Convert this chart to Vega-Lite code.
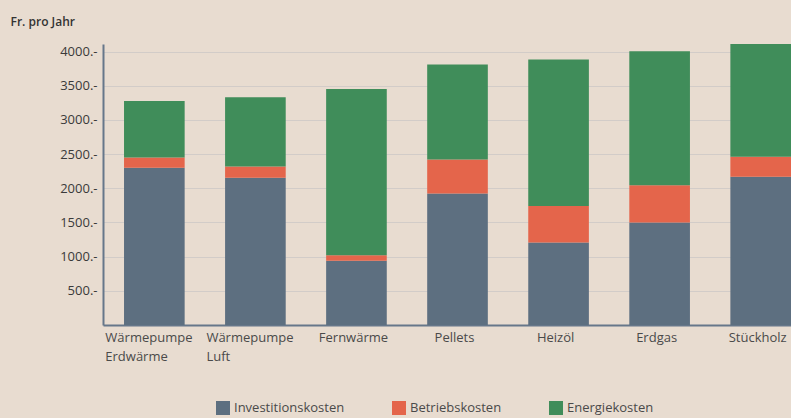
{
  "$schema": "https://vega.github.io/schema/vega-lite/v6.json",
  "width": 688,
  "height": 281,
  "autosize": {"type": "none"},
  "padding": {"left": 103, "top": 44, "right": 0, "bottom": 93},
  "background": "#e8dcd0",
  "config": {
    "view": {"stroke": null},
    "font": "Open Sans",
    "axis": {"labelFont": "Open Sans", "titleFont": "Open Sans"},
    "legend": {"labelFont": "Open Sans"}
  },
  "data": {
    "values": [
      {"typ": "Wärmepumpe Erdwärme", "kosten": "Investitionskosten", "k": 1, "wert": 2300},
      {"typ": "Wärmepumpe Erdwärme", "kosten": "Betriebskosten", "k": 2, "wert": 150},
      {"typ": "Wärmepumpe Erdwärme", "kosten": "Energiekosten", "k": 3, "wert": 825},
      {"typ": "Wärmepumpe Luft", "kosten": "Investitionskosten", "k": 1, "wert": 2155},
      {"typ": "Wärmepumpe Luft", "kosten": "Betriebskosten", "k": 2, "wert": 165},
      {"typ": "Wärmepumpe Luft", "kosten": "Energiekosten", "k": 3, "wert": 1010},
      {"typ": "Fernwärme", "kosten": "Investitionskosten", "k": 1, "wert": 940},
      {"typ": "Fernwärme", "kosten": "Betriebskosten", "k": 2, "wert": 80},
      {"typ": "Fernwärme", "kosten": "Energiekosten", "k": 3, "wert": 2430},
      {"typ": "Pellets", "kosten": "Investitionskosten", "k": 1, "wert": 1925},
      {"typ": "Pellets", "kosten": "Betriebskosten", "k": 2, "wert": 495},
      {"typ": "Pellets", "kosten": "Energiekosten", "k": 3, "wert": 1390},
      {"typ": "Heizöl", "kosten": "Investitionskosten", "k": 1, "wert": 1205},
      {"typ": "Heizöl", "kosten": "Betriebskosten", "k": 2, "wert": 535},
      {"typ": "Heizöl", "kosten": "Energiekosten", "k": 3, "wert": 2145},
      {"typ": "Erdgas", "kosten": "Investitionskosten", "k": 1, "wert": 1500},
      {"typ": "Erdgas", "kosten": "Betriebskosten", "k": 2, "wert": 545},
      {"typ": "Erdgas", "kosten": "Energiekosten", "k": 3, "wert": 1960},
      {"typ": "Stückholz", "kosten": "Investitionskosten", "k": 1, "wert": 2170},
      {"typ": "Stückholz", "kosten": "Betriebskosten", "k": 2, "wert": 290},
      {"typ": "Stückholz", "kosten": "Energiekosten", "k": 3, "wert": 1650}
    ]
  },
  "mark": {"type": "bar", "clip": false},
  "encoding": {
    "x": {
      "field": "typ",
      "type": "nominal",
      "sort": null,
      "scale": {"paddingInner": 0.4, "paddingOuter": 0.104, "align": 1},
      "axis": {
        "title": null,
        "labelAngle": 0,
        "labelFontSize": 13,
        "labelColor": "#4a4a4a",
        "labelPadding": 6,
        "labelAlign": {"condition": {"test": "indexof(datum.value, 'Wärmepumpe') == 0", "value": "left"}, "value": "center"},
        "labelOffset": {"condition": {"test": "indexof(datum.value, 'Wärmepumpe') == 0", "value": -49}, "value": -3},
        "labelLineHeight": 19,
        "ticks": false,
        "domainColor": "#66778a",
        "domainWidth": 2,
        "labelExpr": "datum.value == 'Wärmepumpe Erdwärme' ? ['Wärmepumpe', 'Erdwärme'] : datum.value == 'Wärmepumpe Luft' ? ['Wärmepumpe', 'Luft'] : datum.value"
      }
    },
    "y": {
      "field": "wert",
      "type": "quantitative",
      "stack": "zero",
      "scale": {"domain": [0, 4110], "nice": false},
      "axis": {
        "title": "Fr. pro Jahr",
        "titleAngle": 0,
        "titleAlign": "left",
        "titleBaseline": "middle",
        "titleX": -93,
        "titleY": -23,
        "titleFontSize": 12,
        "titleFontWeight": 600,
        "titleColor": "#333333",
        "values": [500, 1000, 1500, 2000, 2500, 3000, 3500, 4000],
        "labelExpr": "datum.value + '.-'",
        "labelFontSize": 13,
        "labelColor": "#3a3a3a",
        "labelPadding": 6,
        "ticks": false,
        "domainColor": "#66778a",
        "domainWidth": 2,
        "grid": true,
        "gridColor": "#b9b8bf",
        "gridOpacity": 0.45,
        "gridWidth": 1
      }
    },
    "color": {
      "field": "kosten",
      "type": "nominal",
      "scale": {
        "domain": ["Investitionskosten", "Betriebskosten", "Energiekosten"],
        "range": ["#5d6f80", "#e4654b", "#408d5a"]
      },
      "legend": {
        "title": null,
        "orient": "none",
        "direction": "horizontal",
        "legendX": 113,
        "legendY": 357,
        "symbolType": "square",
        "symbolSize": 196,
        "symbolStrokeWidth": 0,
        "labelFontSize": 13,
        "labelColor": "#4a4a4a",
        "labelOffset": 4,
        "columnPadding": 47
      }
    },
    "order": {"field": "k", "type": "quantitative"}
  }
}
